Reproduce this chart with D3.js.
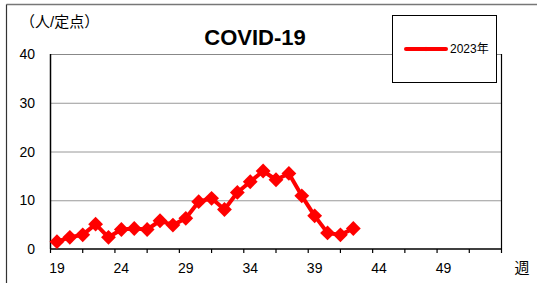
<!DOCTYPE html>
<html>
<head>
<meta charset="utf-8">
<script src="https://cdn.jsdelivr.net/npm/d3@7"></script>
<style>
  body { margin: 0; background: #fff; }
  text { font-family: "Liberation Sans", "Noto Sans CJK JP", sans-serif; fill: #000; }
</style>
</head>
<body>
<svg id="chart" width="537" height="283"></svg>
<script>
// weeks 19..53 on the category axis, values only up to week 42
const weeks = d3.range(19, 54);
const cases2023 = [1.5, 2.4, 2.9, 5.1, 2.4, 4.0, 4.2, 4.0, 5.8, 4.9, 6.3, 9.7,
  10.4, 8.1, 11.6, 13.8, 16.0, 14.2, 15.5, 10.9, 6.8, 3.3, 2.9, 4.2];
const yTicks = [0, 10, 20, 30, 40];
const xLabels = [19, 24, 29, 34, 39, 44, 49];

const svg = d3.select('#chart');
const plotL = 50.5, plotR = 501.5, plotT = 54, plotB = 249;

// outer frame (only top/left edges visible)
svg.append('line').attr('x1', 6.5).attr('x2', 537).attr('y1', 4.5).attr('y2', 4.5)
  .attr('stroke', '#777').attr('stroke-width', 1.5);
svg.append('line').attr('x1', 6.5).attr('x2', 6.5).attr('y1', 4.5).attr('y2', 283)
  .attr('stroke', '#333').attr('stroke-width', 1.2);

const x = d3.scaleBand().domain(weeks).range([plotL, plotR]);
const y = d3.scaleLinear().domain([0, 40]).range([plotB, plotT]);

// gridlines
svg.append('g').selectAll('line')
  .data(yTicks.filter(d => d > 0))
  .enter()
  .append('line')
  .attr('x1', plotL).attr('x2', plotR)
  .attr('y1', d => y(d) + 0.5).attr('y2', d => y(d) + 0.5)
  .attr('stroke', d => (d === 40 ? '#111' : '#333'))
  .attr('stroke-width', 1)
  .attr('stroke-dasharray', '1,1');

// right border of plot
svg.append('line').attr('x1', plotR).attr('x2', plotR).attr('y1', plotT).attr('y2', plotB)
  .attr('stroke', '#000').attr('stroke-width', 1.2);

// y axis
svg.append('line').attr('x1', plotL).attr('x2', plotL).attr('y1', plotT).attr('y2', plotB)
  .attr('stroke', '#000').attr('stroke-width', 1.5);
svg.append('g').selectAll('text')
  .data(yTicks)
  .enter()
  .append('text')
  .attr('x', 35)
  .attr('y', d => y(d))
  .attr('dy', '0.36em')
  .attr('text-anchor', 'end')
  .style('font-size', '14px')
  .text(d => d);

// x axis with ticks every 2.5 categories
svg.append('line').attr('x1', plotL).attr('x2', plotR).attr('y1', plotB).attr('y2', plotB)
  .attr('stroke', '#000').attr('stroke-width', 1.5);
const tickPos = d3.range(15).map(k => plotL + k * (plotR - plotL) / 14);
svg.append('g').selectAll('line')
  .data(tickPos)
  .enter()
  .append('line')
  .attr('x1', d => d).attr('x2', d => d)
  .attr('y1', plotB).attr('y2', plotB + 4)
  .attr('stroke', '#000').attr('stroke-width', 1.2);
svg.append('g').selectAll('text')
  .data(xLabels)
  .enter()
  .append('text')
  .attr('x', d => x(d) + x.bandwidth() / 2)
  .attr('y', 268)
  .attr('dy', '0.36em')
  .attr('text-anchor', 'middle')
  .style('font-size', '14px')
  .text(d => d);
svg.append('text').attr('x', 522).attr('y', 268).attr('dy', '0.36em')
  .attr('text-anchor', 'middle').style('font-size', '15px').text('週');

// unit label and title
svg.append('text').attr('x', 20).attr('y', 22).attr('dy', '0.36em')
  .style('font-size', '15px').text('（人/定点）');
svg.append('text').attr('x', 255).attr('y', 37).attr('dy', '0.36em')
  .attr('text-anchor', 'middle').style('font-size', '22px').style('font-weight', 'bold')
  .text('COVID-19');

// series
const pts = cases2023.map((v, i) => [weeks[i], v]);
const line = d3.line()
  .x(d => x(d[0]) + x.bandwidth() / 2)
  .y(d => y(d[1]));
svg.append('path')
  .datum(pts)
  .attr('d', line)
  .attr('fill', 'none')
  .attr('stroke', '#ff0000')
  .attr('stroke-width', 4)
  .attr('stroke-linejoin', 'round');
const diamond = d3.symbol().type(d3.symbolDiamond2).size(140);
svg.append('g').selectAll('path')
  .data(pts)
  .enter()
  .append('path')
  .attr('d', diamond)
  .attr('transform', d => `translate(${x(d[0]) + x.bandwidth() / 2},${y(d[1])})`)
  .attr('fill', '#ff0000');

// legend
svg.append('rect').attr('x', 392.5).attr('y', 15.5).attr('width', 104).attr('height', 67)
  .attr('fill', '#fff').attr('stroke', '#000').attr('stroke-width', 1);
svg.append('line').attr('x1', 406).attr('x2', 446).attr('y1', 49).attr('y2', 49)
  .attr('stroke', '#ff0000').attr('stroke-width', 4).attr('stroke-linecap', 'round');
svg.append('path').attr('d', d3.symbol().type(d3.symbolDiamond2).size(14))
  .attr('transform', 'translate(426,49)').attr('fill', '#ff0000');
svg.append('text').attr('x', 450).attr('y', 49).attr('dy', '0.36em')
  .style('font-size', '12px').text('2023年');
</script>
</body>
</html>
